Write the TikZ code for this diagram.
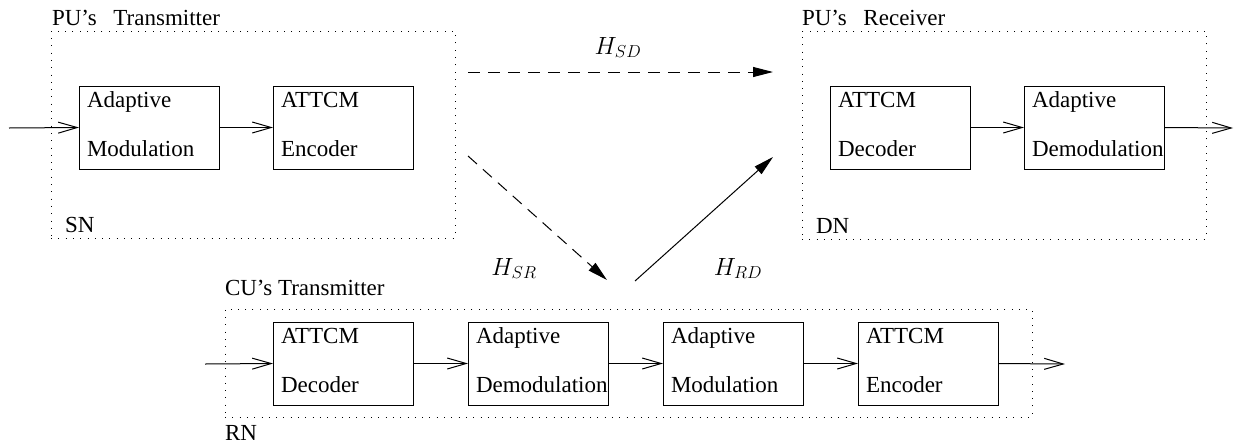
\documentclass[tikz,border=0pt]{standalone}
\usepackage{fontspec}
\setmainfont{Liberation Serif}
\usetikzlibrary{arrows.meta}
\newcommand\mkblk[5]{%
  \node[blk, anchor=north west] (#1) at (#2,#3) {};
  \node[txt] (#1a) at ([xshift=8pt,yshift=-21pt]#1.north west) {#4};
  \node[txt] (#1b) at ([xshift=8pt,yshift=-70pt]#1.north west) {#5};
}
\begin{document}
\begin{tikzpicture}[x=1pt,y=-1pt,
  every node/.style={inner sep=0pt, outer sep=0pt},
  txt/.style={anchor=base west, font=\fontsize{23}{27}\selectfont},
  blk/.style={draw, line width=1pt, minimum width=140pt, minimum height=83pt},
  cont/.style={draw, line width=1pt, dash pattern=on 1pt off 6.3pt},
  sig/.style={line width=1pt, -{Straight Barb[length=19pt,width=11pt]}},
  chan/.style={line width=1pt, -{Triangle[length=20pt,width=10pt]}},
  dsh/.style={dash pattern=on 12pt off 8pt},
  lab/.style={anchor=base, font=\fontsize{24}{28}\selectfont}]
\useasboundingbox (0,0) rectangle (1236,445);

% containers
\node[cont, anchor=north west, minimum width=404pt, minimum height=207pt] (SN) at (51,31) {};
\node[cont, anchor=north west, minimum width=404pt, minimum height=208pt] (DN) at (802,31) {};
\node[cont, anchor=north west, minimum width=807pt, minimum height=108pt] (RN) at (225,309) {};

\node[txt] (SNt) at (52,25) {PU’s\hspace{11pt} Transmitter};
\node[txt] (DNt) at (802,25) {PU’s\hspace{11pt} Receiver};
\node[txt] (RNt) at (225,295) {CU’s Transmitter};
\node[txt] (SNl) at (65,232) {SN};
\node[txt] (DNl) at (816,233) {DN};
\node[txt] (RNl) at (225,440) {RN};

% blocks
\mkblk{am}{79}{86}{Adaptive}{Modulation}
\mkblk{ae}{273}{86}{ATTCM}{Encoder}
\mkblk{dd}{830}{86}{ATTCM}{Decoder}
\mkblk{ddm}{1024}{86}{Adaptive}{Demodulation}
\mkblk{rd}{273}{322}{ATTCM}{Decoder}
\mkblk{rdm}{468}{322}{Adaptive}{Demodulation}
\mkblk{rm}{663}{322}{Adaptive}{Modulation}
\mkblk{re}{858}{322}{ATTCM}{Encoder}

% signal arrows
\coordinate (inS) at (9,128);
\coordinate (outD) at (1233,128);
\coordinate (inR) at (205,364);
\coordinate (outR) at (1065,364);
\draw[sig] (inS) -- (am.west);
\draw[sig] (am.east) -- (ae.west);
\draw[sig] (dd.east) -- (ddm.west);
\draw[sig] (ddm.east) -- (outD);
\draw[sig] (inR) -- (rd.west);
\draw[sig] (rd.east) -- (rdm.west);
\draw[sig] (rdm.east) -- (rm.west);
\draw[sig] (rm.east) -- (re.west);
\draw[sig] (re.east) -- (outR);

% channels
\coordinate (sd1) at (468,72);
\coordinate (sd2) at (773,72);
\coordinate (sr1) at (468,156);
\coordinate (sr2) at (607,280);
\coordinate (rd1) at (635,281);
\coordinate (rd2) at (773,157);
\draw[chan, dsh] (sd1) -- (sd2);
\draw[chan, dsh] (sr1) -- (sr2);
\draw[chan] (rd1) -- (rd2);
\node[lab] (hsd) at (618,54) {$H_{SD}$};
\node[lab] (hsr) at (514,275) {$H_{SR}$};
\node[lab] (hrd) at (738,275) {$H_{RD}$};
\end{tikzpicture}
\end{document}
